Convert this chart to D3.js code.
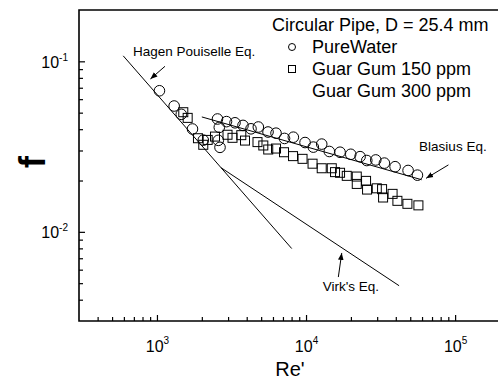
<!DOCTYPE html>
<html>
<head>
<meta charset="utf-8">
<script src="https://cdn.jsdelivr.net/npm/d3@7"></script>
<style>
body { margin: 0; background: #fff; }
svg { display: block; font-family: "Liberation Sans", Arial, sans-serif; }
</style>
</head>
<body>
<div id="chart"></div>
<script>
var waterRe = [1039, 1304, 1456, 1731, 2045, 2547, 2619, 2579, 2648, 2927, 3338, 3777, 4274, 4786, 5559, 6290, 7172, 8218, 9847, 11190, 12740, 14330, 16910, 19950, 23040, 25550, 29360, 33540, 39570, 48370, 55850];
var waterF = [0.0672, 0.0547, 0.0489, 0.0401, 0.0345, 0.0459, 0.0410, 0.0344, 0.0313, 0.0443, 0.0436, 0.0421, 0.0402, 0.0412, 0.0385, 0.0379, 0.0353, 0.0359, 0.0334, 0.0314, 0.0327, 0.0296, 0.0293, 0.0285, 0.0276, 0.0262, 0.0264, 0.0253, 0.0241, 0.0229, 0.0215];

var guar150Re = [1502, 1607, 1884, 2045, 2189, 2451, 2974, 3212, 3679, 3896, 4725, 5169, 5577, 6290, 7116, 8180, 9474, 11060, 12740, 14880, 15650, 16910, 18760, 21890, 21890, 25270, 25660, 29820, 32360, 32870, 38060, 41010, 47860, 56720];
var guar150F = [0.0503, 0.0466, 0.0354, 0.0324, 0.0346, 0.0362, 0.0371, 0.0356, 0.0369, 0.0343, 0.0336, 0.0321, 0.0304, 0.0308, 0.0293, 0.0278, 0.0268, 0.0251, 0.0236, 0.0236, 0.0224, 0.0222, 0.0213, 0.0211, 0.0191, 0.0199, 0.0177, 0.0180, 0.0178, 0.0159, 0.0167, 0.0152, 0.0146, 0.0143];

// Reference correlations (end points of the straight lines)
var hagenRe = [594, 8017];
var hagenF = [0.1077, 0.00798];
var virkRe = [2694, 42100];
var virkF = [0.02376, 0.00483];
var blasiusRe = [2000, 59700];
var blasiusF = [0.0472, 0.0202];

// Axis ticks
var xMajor = [1e3, 1e4, 1e5];
var xExp = ["3", "4", "5"];
var xMinor = [400, 500, 600, 700, 800, 900, 2000, 3000, 4000, 5000, 6000, 7000, 8000, 9000,
	20000, 30000, 40000, 50000, 60000, 70000, 80000, 90000];
var yMajor = [0.1, 0.01];
var yExp = ["-1", "-2"];
var yMinor = [0.09, 0.08, 0.07, 0.06, 0.05, 0.04, 0.03, 0.02, 0.009, 0.008, 0.007, 0.006, 0.005, 0.004];

var legendLabels = ["PureWater", "Guar Gum 150 ppm", "Guar Gum 300 ppm"];

var width = 498, height = 381;
var box = {left: 79, top: 10, right: 500, bottom: 321};

var x = d3.scaleLog().domain([300, 200000]).range([box.left, box.right]);
var y = d3.scaleLog().domain([0.003, 0.2]).range([box.bottom, box.top]);

var svg = d3.select("#chart").append("svg")
	.attr("width", width)
	.attr("height", height);

var defs = svg.append("defs");
defs.append("marker")
	.attr("id", "arrow")
	.attr("viewBox", "0 0 10 10")
	.attr("refX", 10).attr("refY", 5)
	.attr("markerWidth", 7).attr("markerHeight", 7)
	.attr("markerUnits", "userSpaceOnUse")
	.attr("orient", "auto")
	.append("path")
	.attr("d", "M0,1 L10,5 L0,9 Z")
	.attr("fill", "#000");

// Minor ticks
svg.append("g")
	.attr("transform", "translate(0," + box.bottom + ")")
	.call(d3.axisBottom(x).tickValues(xMinor).tickSize(-4).tickFormat(""))
	.call(function(g){ g.select(".domain").remove(); });
svg.append("g")
	.attr("transform", "translate(" + box.left + ",0)")
	.call(d3.axisLeft(y).tickValues(yMinor).tickSize(-4).tickFormat(""))
	.call(function(g){ g.select(".domain").remove(); });

// Major ticks with power labels
var xAxis = svg.append("g")
	.attr("transform", "translate(0," + box.bottom + ")")
	.call(d3.axisBottom(x).tickValues(xMajor).tickSize(-6).tickFormat(""))
	.call(function(g){ g.select(".domain").remove(); });
xAxis.selectAll(".tick text").remove();
xAxis.selectAll(".tick").append("text")
	.attr("y", 31)
	.attr("fill", "#000")
	.attr("text-anchor", "middle")
	.attr("font-size", "16px")
	.each(function(d, i){
		var t = d3.select(this);
		t.append("tspan").text("10");
		t.append("tspan").attr("dy", -8).attr("font-size", "10px").text(xExp[i]);
	});

var yAxis = svg.append("g")
	.attr("transform", "translate(" + box.left + ",0)")
	.call(d3.axisLeft(y).tickValues(yMajor).tickSize(-6).tickFormat(""))
	.call(function(g){ g.select(".domain").remove(); });
yAxis.selectAll(".tick text").remove();
yAxis.selectAll(".tick").append("text")
	.attr("x", -11)
	.attr("y", 6)
	.attr("fill", "#000")
	.attr("text-anchor", "end")
	.attr("font-size", "16px")
	.each(function(d, i){
		var t = d3.select(this);
		t.append("tspan").text("10");
		t.append("tspan").attr("dy", -7).attr("font-size", "10px").text(yExp[i]);
	});

svg.selectAll(".tick line").attr("stroke", "#000").attr("stroke-width", 1.2);

// Plot frame: left, bottom and top only (right edge falls outside the picture)
svg.append("path")
	.attr("d", "M" + box.right + "," + box.top + "H" + box.left + "V" + box.bottom + "H" + box.right)
	.attr("fill", "none")
	.attr("stroke", "#000")
	.attr("stroke-width", 1.6);

// Axis titles
svg.append("text")
	.attr("x", 290).attr("y", 376)
	.attr("text-anchor", "middle")
	.attr("font-size", "20px")
	.text("Re'");
svg.append("text")
	.attr("transform", "translate(45,162) rotate(-90)")
	.attr("text-anchor", "middle")
	.attr("font-size", "36px")
	.attr("font-weight", "bold")
	.text("f");

// Correlation lines
var line = d3.line()
	.x(function(d){ return x(d[0]); })
	.y(function(d){ return y(d[1]); });
[[hagenRe, hagenF], [virkRe, virkF], [blasiusRe, blasiusF]].forEach(function(c){
	svg.append("path")
		.datum(d3.zip(c[0], c[1]))
		.attr("d", line)
		.attr("fill", "none")
		.attr("stroke", "#000")
		.attr("stroke-width", 1);
});

// Data markers
svg.append("g").selectAll("circle")
	.data(d3.zip(waterRe, waterF))
	.enter().append("circle")
	.attr("cx", function(d){ return x(d[0]); })
	.attr("cy", function(d){ return y(d[1]); })
	.attr("r", 5.3)
	.attr("fill", "none")
	.attr("stroke", "#000")
	.attr("stroke-width", 1);

var sq = 9;
svg.append("g").selectAll("rect")
	.data(d3.zip(guar150Re, guar150F))
	.enter().append("rect")
	.attr("x", function(d){ return x(d[0]) - sq / 2; })
	.attr("y", function(d){ return y(d[1]) - sq / 2; })
	.attr("width", sq).attr("height", sq)
	.attr("fill", "none")
	.attr("stroke", "#000")
	.attr("stroke-width", 1);

// Annotations: [label, text Re, text f, tail Re, tail f, head Re, head f]
var notes = [
	["Hagen Pouiselle Eq.", 690, 0.108, 1132, 0.0935, 904, 0.0788],
	["Blasius Eq.", 57340, 0.0296, 90200, 0.0247, 63900, 0.0206],
	["Virk's Eq.", 12943, 0.00448, 16470, 0.00543, 17360, 0.00752]
];
notes.forEach(function(n){
	svg.append("text")
		.attr("x", x(n[1])).attr("y", y(n[2]))
		.attr("font-size", "13.5px")
		.text(n[0]);
	svg.append("line")
		.attr("x1", x(n[3])).attr("y1", y(n[4]))
		.attr("x2", x(n[5])).attr("y2", y(n[6]))
		.attr("stroke", "#000")
		.attr("stroke-width", 1)
		.attr("marker-end", "url(#arrow)");
});

// Legend
var legend = svg.append("g").attr("font-size", "18px");
legend.append("text").attr("x", 272).attr("y", 31).text("Circular Pipe, D = 25.4 mm");
legendLabels.forEach(function(label, i){
	legend.append("text").attr("x", 312).attr("y", 53 + i * 22).text(label);
});
legend.append("circle")
	.attr("cx", 292).attr("cy", 47).attr("r", 3.5)
	.attr("fill", "none").attr("stroke", "#000");
legend.append("rect")
	.attr("x", 288.5).attr("y", 65.5).attr("width", 7).attr("height", 7)
	.attr("fill", "none").attr("stroke", "#000");
</script>
</body>
</html>
